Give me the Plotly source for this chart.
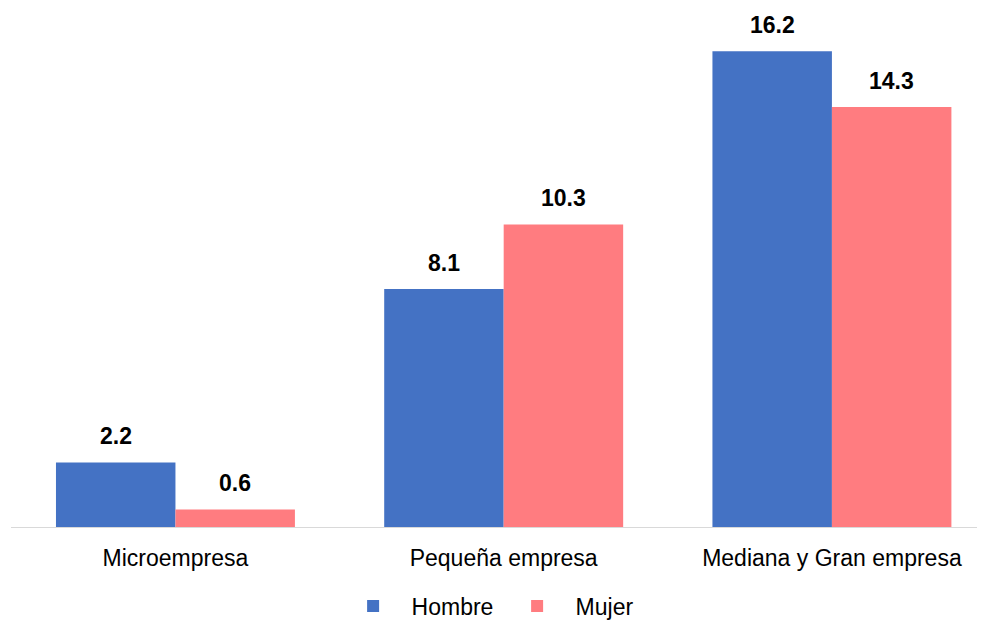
import plotly.graph_objects as go

categories = ["Microempresa", "Pequeña empresa", "Mediana y Gran empresa"]
hombre = [2.2, 8.1, 16.2]
mujer = [0.6, 10.3, 14.3]
series_names = ["Hombre", "Mujer"]
colors = ["#4472C4", "#FF7C80"]

x = list(range(len(categories)))
FONT = "Liberation Sans, Arial, sans-serif"

fig = go.Figure()
for name, vals, col in zip(series_names, [hombre, mujer], colors):
    fig.add_trace(go.Bar(
        x=x, y=vals, name=name, marker=dict(color=col, line=dict(width=0)),
    ))

# data labels
offsets = [-0.182, 0.182]
for off, vals in zip(offsets, [hombre, mujer]):
    for xi, v in zip(x, vals):
        fig.add_annotation(x=xi + off, y=v, text=f"<b>{v:.1f}</b>", showarrow=False,
                           yanchor="bottom", yshift=11,
                           font=dict(family=FONT, size=23, color="#000000"))

fig.update_layout(
    width=987, height=621,
    margin=dict(l=11, r=10, t=13, b=94, autoexpand=False),
    paper_bgcolor="white", plot_bgcolor="white",
    barmode="group", bargap=0.272, bargroupgap=0,
    font=dict(family=FONT, size=23, color="#000000"),
    showlegend=True,
    legend=dict(orientation="h", x=0.335, xanchor="left", y=-0.112, yanchor="top",
                font=dict(family=FONT, size=23, color="#000000"),
                itemwidth=67, entrywidth=82, entrywidthmode="pixels"),
    xaxis=dict(tickvals=x, ticktext=categories, range=[-0.501, 2.442],
               showline=True, linecolor="#D9D9D9", linewidth=1, automargin=False,
               showgrid=False, zeroline=False, ticks="", ticklabelstandoff=10,
               tickfont=dict(family=FONT, size=23, color="#000000")),
    yaxis=dict(range=[0, 17.5], visible=False, showgrid=False, zeroline=False,
               automargin=False),
)

fig.write_html("out.html")
